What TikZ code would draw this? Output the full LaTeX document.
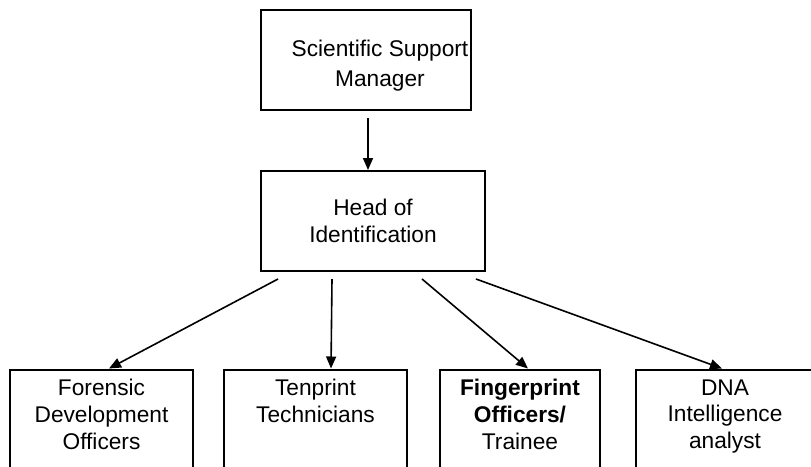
\documentclass[tikz,border=0pt]{standalone}
\usepackage{fontspec}
\setmainfont{Liberation Sans}
\usetikzlibrary{arrows.meta}

\begin{document}
\begin{tikzpicture}[x=1pt, y=-1pt, font=\fontsize{22.7pt}{26.7pt}\selectfont,
  every text node part/.style={align=center},
  unit/.style={draw, line width=2pt, anchor=north, inner ysep=10pt, text depth=80pt},
  link/.style={line width=1.6pt, -{Triangle[length=12pt, width=10pt]}}]
\clip (0,0) rectangle (811,466);

\node (scientific support manager) [draw, line width=2pt, minimum width=210pt, minimum height=100pt] at (366,60) {};
\node at (380,65.5) {Scientific Support\\[2.8pt]Manager};

\node (head of identification) [draw, line width=2pt, minimum width=224pt, minimum height=100pt, node distance=161pt, below of=scientific support manager, xshift=7pt] {Head of\\Identification};

\node (forensic development officers) [unit, minimum width=183pt] at (101.5,368.5) {Forensic\\Development\\Officers};
\node (tenprint technicians) [unit, minimum width=183pt] at (315.5,368.5) {Tenprint\\Technicians};
\node (fingerprint officers) [unit, minimum width=160pt] at (520,368.5) {\textbf{Fingerprint}\\\textbf{Officers/}\\Trainee};
\node (dna intelligence analyst) [unit, minimum width=178pt] at (725,368.5) {DNA\\Intelligence\\analyst};

\draw [link] ([shift={(2,7)}]scientific support manager.south) -- ([xshift=-5pt]head of identification.north);

\draw [link] ([shift={(-95,7)}]head of identification.south) -- ([xshift=7.5pt]forensic development officers.north);
\draw [link] ([shift={(-41,7)}]head of identification.south) -- ([xshift=15.5pt]tenprint technicians.north);
\draw [link] ([shift={(49,7)}]head of identification.south) -- ([xshift=8pt]fingerprint officers.north);
\draw [link] ([shift={(103,7)}]head of identification.south) -- ([xshift=-3pt]dna intelligence analyst.north);

\end{tikzpicture}
\end{document}
